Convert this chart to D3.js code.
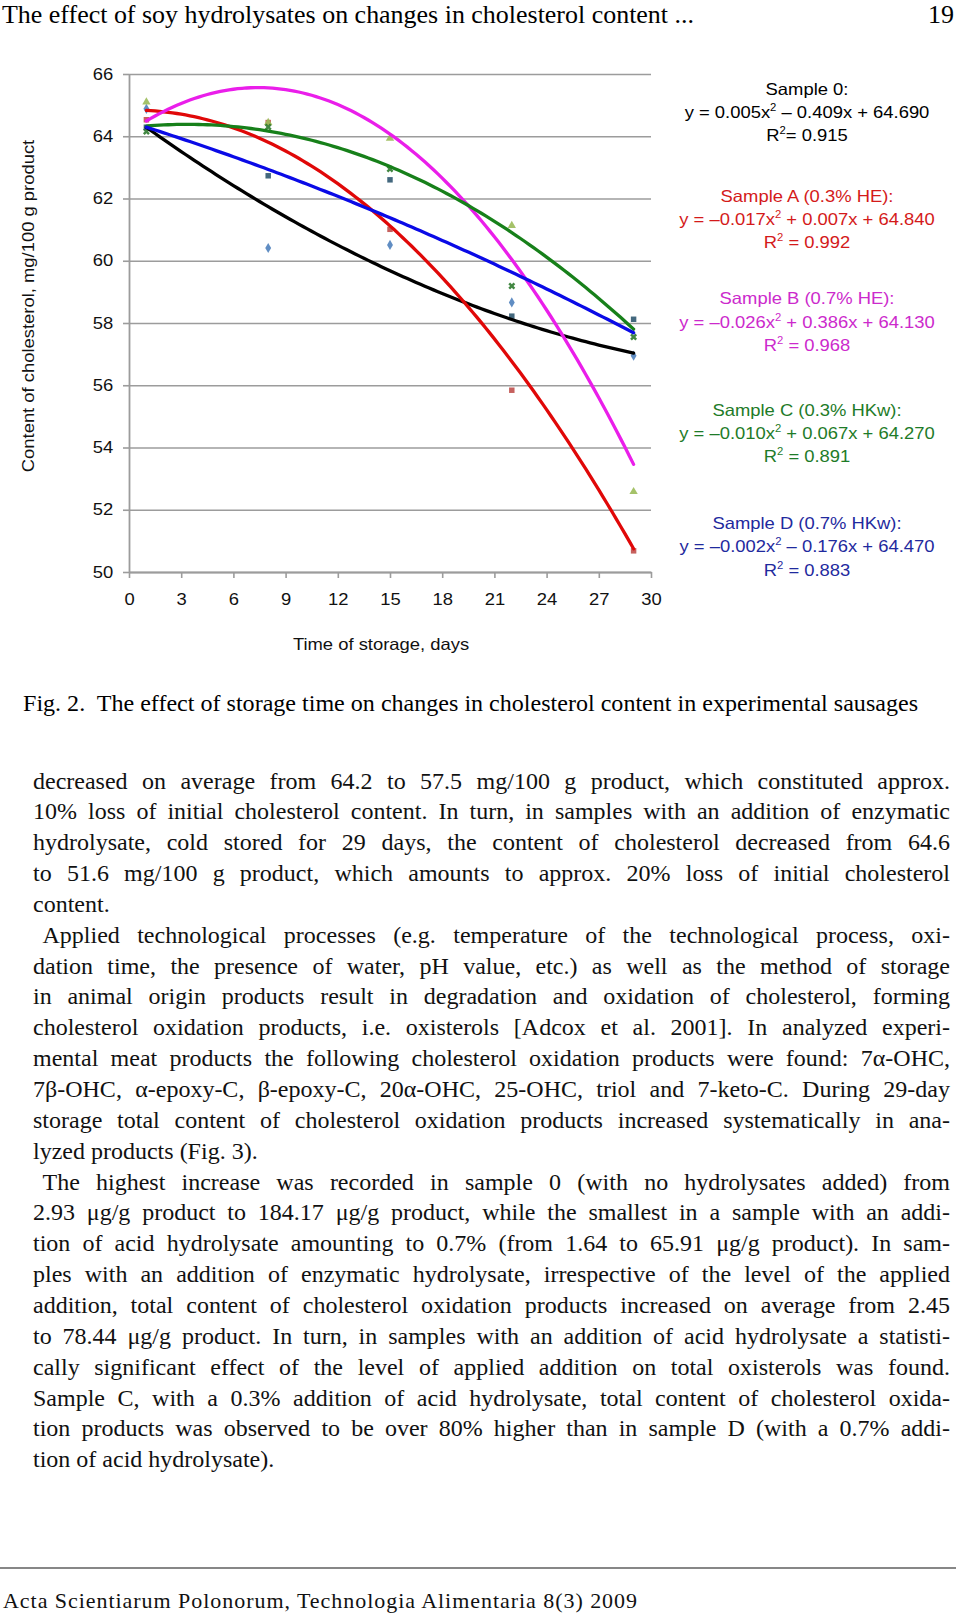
<!DOCTYPE html>
<html><head><meta charset="utf-8">
<script src="https://cdn.jsdelivr.net/npm/d3@7"></script>
<style>html,body{margin:0;padding:0;background:#fff}svg{display:block}</style>
</head><body>
<script>
// ---------------- data ----------------
const days = [1, 8, 15, 22, 29];
const xTicks = [0, 3, 6, 9, 12, 15, 18, 21, 24, 27, 30];
const yTicks = [50, 52, 54, 56, 58, 60, 62, 64, 66];

const sample0 = [64.88, 60.41, 60.51, 58.66, 56.95];
const sampleA = [64.53, 64.44, 61.01, 55.84, 50.68];
const sampleB = [65.10, 64.44, 63.93, 61.13, 52.58];
const sampleC = [64.15, 64.30, 62.95, 59.19, 57.55];
const sampleD = [64.29, 62.73, 62.60, 58.22, 58.12];

// trend-line coefficients as printed in the chart: y = a*x^2 + b*x + c
const coef0 = [0.005, -0.409, 64.690];
const coefA = [-0.017, 0.007, 64.840];
const coefB = [-0.026, 0.386, 64.130];
const coefC = [-0.010, 0.067, 64.270];
const coefD = [-0.002, -0.176, 64.470];

const sampleNames = ["Sample 0:", "Sample A (0.3% HE):", "Sample B (0.7% HE):", "Sample C (0.3% HKw):", "Sample D (0.7% HKw):"];
const eqLeft  = ["y = 0.005x", "y = \u20130.017x", "y = \u20130.026x", "y = \u20130.010x", "y = \u20130.002x"];
const eqRight = [" \u2013 0.409x + 64.690", " + 0.007x + 64.840", " + 0.386x + 64.130", " + 0.067x + 64.270", " \u2013 0.176x + 64.470"];
const r2Text  = ["= 0.915", " = 0.992", " = 0.968", " = 0.891", " = 0.883"];

const headerText = "The effect of soy hydrolysates on changes in cholesterol content ...";
const pageNumber = "19";
const yTitle = "Content of cholesterol, mg/100 g product";
const xTitle = "Time of storage, days";
const caption = "Fig. 2.  The effect of storage time on changes in cholesterol content in experimental sausages";
const footer = "Acta Scientiarum Polonorum, Technologia Alimentaria 8(3) 2009";
const bodyLines = [
  "decreased on average from 64.2 to 57.5 mg/100 g product, which constituted approx.",
  "10% loss of initial cholesterol content. In turn, in samples with an addition of enzymatic",
  "hydrolysate, cold stored for 29 days, the content of cholesterol decreased from 64.6",
  "to 51.6 mg/100 g product, which amounts to approx. 20% loss of initial cholesterol",
  "content.",
  "Applied technological processes (e.g. temperature of the technological process, oxi-",
  "dation time, the presence of water, pH value, etc.) as well as the method of storage",
  "in animal origin products result in degradation and oxidation of cholesterol, forming",
  "cholesterol oxidation products, i.e. oxisterols [Adcox et al. 2001]. In analyzed experi-",
  "mental meat products the following cholesterol oxidation products were found: 7\u03b1-OHC,",
  "7\u03b2-OHC, \u03b1-epoxy-C, \u03b2-epoxy-C, 20\u03b1-OHC, 25-OHC, triol and 7-keto-C. During 29-day",
  "storage total content of cholesterol oxidation products increased systematically in ana-",
  "lyzed products (Fig. 3).",
  "The highest increase was recorded in sample 0 (with no hydrolysates added) from",
  "2.93 \u03bcg/g product to 184.17 \u03bcg/g product, while the smallest in a sample with an addi-",
  "tion of acid hydrolysate amounting to 0.7% (from 1.64 to 65.91 \u03bcg/g product). In sam-",
  "ples with an addition of enzymatic hydrolysate, irrespective of the level of the applied",
  "addition, total content of cholesterol oxidation products increased on average from 2.45",
  "to 78.44 \u03bcg/g product. In turn, in samples with an addition of acid hydrolysate a statisti-",
  "cally significant effect of the level of applied addition on total oxisterols was found.",
  "Sample C, with a 0.3% addition of acid hydrolysate, total content of cholesterol oxida-",
  "tion products was observed to be over 80% higher than in sample D (with a 0.7% addi-",
  "tion of acid hydrolysate)."
];
const indentLines = [5, 13];
const lastLines = [4, 12, 22];

// ---------------- layout & style ----------------
const W = 960, H = 1617;
const plot = {left: 129, right: 651, top: 74, bottom: 572};
const SX = 1.13;               // horizontal stretch of the chart's sans text
const sansFont = "'Liberation Sans', Arial, sans-serif";
const serifFont = "'Liberation Serif', 'Times New Roman', serif";
const series = [
  {vals: sample0, coef: coef0, line: "#000000", mark: "#4F81BD", sym: d3.symbolDiamond, txt: "#000000", rot: 0},
  {vals: sampleA, coef: coefA, line: "#E00808", mark: "#C0504D", sym: d3.symbolSquare, txt: "#D41A1A", rot: 0},
  {vals: sampleB, coef: coefB, line: "#EA1EEA", mark: "#9BBB59", sym: d3.symbolTriangle, txt: "#CC2ACC", rot: 0},
  {vals: sampleC, coef: coefC, line: "#17801A", mark: "#2E7A2E", sym: d3.symbolCross, txt: "#1E7B28", rot: 45},
  {vals: sampleD, coef: coefD, line: "#0A0AE6", mark: "#2F5870", sym: d3.symbolSquare, txt: "#1F2A9E", rot: 0}
];
const legendX = 807;
const legendNameY = [94.7, 201.7, 304.3, 415.7, 529];

const svg = d3.select("body").append("svg").attr("width", W).attr("height", H);
svg.append("rect").attr("width", W).attr("height", H).attr("fill", "#fff");

// header
svg.append("text").attr("x", 2).attr("y", 23).attr("font-family", serifFont).attr("font-size", 26)
  .attr("textLength", 692).attr("lengthAdjust", "spacingAndGlyphs").text(headerText);
svg.append("text").attr("x", 954).attr("y", 23).attr("text-anchor", "end").attr("font-family", serifFont)
  .attr("font-size", 26).text(pageNumber);

// scales
const x = d3.scaleLinear().domain([0, 30]).range([plot.left, plot.right]);
const y = d3.scaleLinear().domain([50, 66]).range([plot.bottom, plot.top]);

const gridC = "#9C9C9C";
// gridlines
const grid = svg.append("g").attr("transform", `translate(${plot.left},0)`)
  .call(d3.axisLeft(y).tickValues(yTicks).tickSize(-(plot.right - plot.left)).tickFormat(""));
grid.select(".domain").remove();
grid.selectAll("line").attr("stroke", gridC).attr("stroke-width", 1.6);

// y axis
const ya = svg.append("g").attr("transform", `translate(${plot.left},0)`)
  .call(d3.axisLeft(y).tickValues(yTicks).tickSize(6).tickSizeOuter(0).tickPadding(8));
ya.select(".domain").attr("stroke", gridC).attr("stroke-width", 1.8);
ya.selectAll("line").attr("stroke", gridC).attr("stroke-width", 1.6);
ya.selectAll("text").attr("font-family", sansFont).attr("font-size", 16.3).attr("fill", "#111")
  .attr("transform", `scale(${SX},1)`);

// x axis
const xa = svg.append("g").attr("transform", `translate(0,${plot.bottom})`)
  .call(d3.axisBottom(x).tickValues(xTicks).tickSize(6).tickSizeOuter(0).tickPadding(15));
xa.select(".domain").attr("stroke", gridC).attr("stroke-width", 1.8);
xa.selectAll("line").attr("stroke", gridC).attr("stroke-width", 1.6);
xa.selectAll("text").attr("font-family", sansFont).attr("font-size", 16.3).attr("fill", "#111")
  .attr("transform", `scale(${SX},1)`);

// axis titles
svg.append("text").attr("transform", `translate(34,306) rotate(-90) scale(${SX},1)`)
  .attr("text-anchor", "middle").attr("font-family", sansFont).attr("font-size", 16.3).attr("fill", "#111")
  .text(yTitle);
svg.append("text").attr("transform", `translate(381,650) scale(${SX},1)`)
  .attr("text-anchor", "middle").attr("font-family", sansFont).attr("font-size", 16.3).attr("fill", "#111")
  .text(xTitle);

// markers
series.forEach(s => {
  svg.append("g").selectAll("path").data(days.map((d, i) => [d, s.vals[i]])).join("path")
    .attr("d", d3.symbol().type(s.sym).size(30))
    .attr("transform", d => `translate(${x(d[0])},${y(d[1])}) rotate(${s.rot})`)
    .attr("fill", s.mark).attr("opacity", 0.9);
});

// trend lines
const line = d3.line().x(d => x(d[0])).y(d => y(d[1])).curve(d3.curveLinear);
series.forEach(s => {
  const pts = d3.range(days[0], days[days.length - 1] + 0.001, 0.25)
    .map(t => [t, s.coef[0] * t * t + s.coef[1] * t + s.coef[2]]);
  svg.append("path").attr("d", line(pts)).attr("fill", "none").attr("stroke", s.line)
    .attr("stroke-width", 3.3).attr("stroke-linejoin", "round").attr("stroke-linecap", "round");
});

// equation legend
series.forEach((s, i) => {
  const by = legendNameY[i];
  const mk = (yy) => svg.append("text").attr("transform", `translate(${legendX},${yy}) scale(${SX},1)`)
    .attr("text-anchor", "middle").attr("font-family", sansFont).attr("font-size", 16.3).attr("fill", s.txt)
    .style("white-space", "pre");
  mk(by).text(sampleNames[i]);
  const e = mk(by + 23.3);
  e.append("tspan").text(eqLeft[i]);
  e.append("tspan").attr("font-size", 10).attr("dy", -7).text("2");
  e.append("tspan").attr("dy", 7).text(eqRight[i]);
  const r = mk(by + 46.5);
  r.append("tspan").text("R");
  r.append("tspan").attr("font-size", 10).attr("dy", -7).text("2");
  r.append("tspan").attr("dy", 7).text(r2Text[i]);
});

// caption
svg.append("text").attr("x", 23).attr("y", 711).attr("font-family", serifFont).attr("font-size", 24)
  .style("white-space", "pre")
  .attr("textLength", 895).attr("lengthAdjust", "spacingAndGlyphs").text(caption);

// body text (justified)
const bodyLeft = 33, bodyRight = 950, indent = 9.5, firstBase = 788.5, lineH = 30.85;
bodyLines.forEach((str, i) => {
  const lx = bodyLeft + (indentLines.includes(i) ? indent : 0);
  const t = svg.append("text").attr("x", lx).attr("y", firstBase + i * lineH)
    .attr("font-family", serifFont).attr("font-size", 24).attr("fill", "#111")
    .style("white-space", "pre").text(str);
  if (!lastLines.includes(i)) {
    const nat = t.node().getComputedTextLength();
    const spaces = (str.match(/ /g) || []).length;
    if (spaces > 0) t.style("word-spacing", ((bodyRight - lx - nat) / spaces) + "px");
  }
});

// footer
svg.append("line").attr("x1", 0).attr("x2", 956).attr("y1", 1568).attr("y2", 1568)
  .attr("stroke", "#111").attr("stroke-width", 1.2);
svg.append("text").attr("x", 3).attr("y", 1608).attr("font-family", serifFont).attr("font-size", 22)
  .attr("textLength", 634).attr("lengthAdjust", "spacing").attr("fill", "#111").text(footer);
</script>
</body></html>
